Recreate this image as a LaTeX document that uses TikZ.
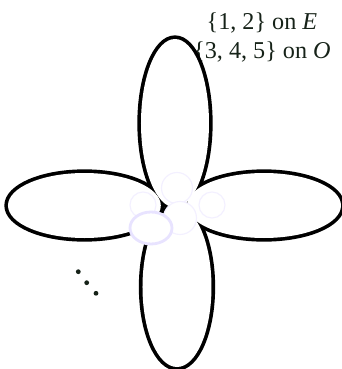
\documentclass[tikz,border=0pt]{standalone}
\usepackage{fontspec}
\setmainfont{Liberation Serif}
\usepackage{tikz}
\definecolor{InkGreen}{RGB}{22,34,24}
\definecolor{HaloLilac}{RGB}{243,240,255}
\definecolor{HaloDeep}{RGB}{232,227,255}
\tikzset{
  petalink/.style={line width=5.2pt},
  petalfill/.style={fill=white},
  halo/.style={draw=HaloLilac,fill=white,line width=0.8pt},
  halodeep/.style={draw=HaloDeep,fill=white,line width=2pt},
  tagtext/.style={text=InkGreen,align=center,inner sep=0pt,
    font=\fontsize{17.2}{20.6}\selectfont}
}

\begin{document}
\begin{tikzpicture}[x=0.5cm,y=0.5cm]
  \useasboundingbox (-8.7,-8.25) rectangle (8.4,10.2);
  \node[tagtext] (colours) at (4.4,8.325)
    {\{1, 2\} on \textit{E}\\\{3, 4, 5\} on \textit{O}};

  % petals: thick outline, then white fill hides the inner parts
  \draw[petalink] (0.05,4.04) ellipse [x radius=1.7, y radius=4.21];
  \draw[petalink] (-4.48,-0.075) ellipse [x radius=3.82, y radius=1.625];
  \draw[petalink] (4.5,-0.075) ellipse [x radius=3.85, y radius=1.625];
  \draw[petalink] (0.15,-4.15) ellipse [x radius=1.725, y radius=4.0];
  \fill[petalfill] (0.05,4.04) ellipse [x radius=1.7, y radius=4.21];
  \fill[petalfill] (-4.48,-0.075) ellipse [x radius=3.82, y radius=1.625];
  \fill[petalfill] (4.5,-0.075) ellipse [x radius=3.85, y radius=1.625];
  \fill[petalfill] (0.15,-4.15) ellipse [x radius=1.725, y radius=4.0];

  % halos over the centre
  \draw[halo] (0.15,0.8) circle (0.775);
  \draw[halo] (-1.55,-0.05) circle (0.65);
  \draw[halo] (1.9,-0.05) circle (0.65);
  \draw[halo] (0.3,-0.7) circle (0.825);
  \draw[halodeep] (-1.15,-1.2) ellipse [x radius=1.05, y radius=0.8];

  % dots
  \fill[InkGreen] (-4.785,-3.385) circle (0.12);
  \fill[InkGreen] (-4.365,-3.935) circle (0.12);
  \fill[InkGreen] (-3.9,-4.465) circle (0.12);
\end{tikzpicture}
\end{document}
